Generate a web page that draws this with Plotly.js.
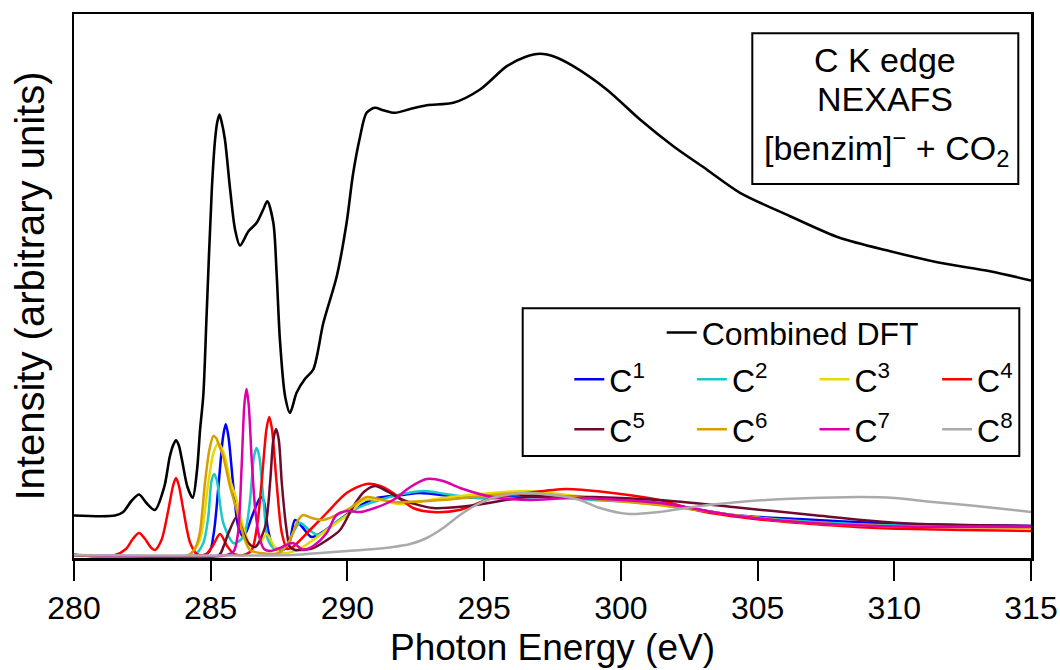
<!DOCTYPE html>
<html>
<head>
<meta charset="utf-8">
<script src="https://cdn.plot.ly/plotly-3.0.1.min.js"></script>
<style>html,body{margin:0;padding:0;background:#fff;}#chart{width:1060px;height:670px;}</style>
</head>
<body>
<div id="chart"></div>
<script>
// ---- data (photon energy in eV, intensity in arbitrary units) ----
const combinedX = [280, 281.5, 281.8, 282.1, 282.38, 282.65, 282.96, 283.3, 283.5, 283.63, 283.73, 283.83, 283.95, 284.15, 284.34, 284.5, 284.61, 284.73, 284.85, 285.04, 285.16, 285.24, 285.32, 285.4, 285.52, 285.71, 285.89, 286.07, 286.38, 286.68, 286.92, 287.07, 287.29, 287.41, 287.53, 287.72, 287.9, 288.14, 288.45, 288.75, 289.12, 289.61, 289.97, 290.2, 290.46, 290.7, 291.0, 291.31, 291.74, 292.3, 292.9, 293.87, 294.85, 295.83, 296.5, 297.05, 297.6, 298.26, 299.48, 300.7, 301.92, 303.14, 304.36, 306.19, 308.0, 309.85, 311.67, 313.5, 315.0];
const combinedY = [0.395, 0.395, 0.43, 0.54, 0.605, 0.52, 0.45, 0.68, 0.98, 1.1, 1.148, 1.1, 0.95, 0.68, 0.572, 0.85, 1.25, 1.6, 2.4, 3.655, 4.155, 4.33, 4.405, 4.33, 4.155, 3.655, 3.255, 3.095, 3.238, 3.322, 3.455, 3.538, 3.322, 2.822, 2.155, 1.588, 1.422, 1.622, 1.762, 1.855, 2.322, 2.788, 3.322, 3.8, 4.18, 4.422, 4.472, 4.448, 4.422, 4.46, 4.498, 4.522, 4.655, 4.888, 4.98, 5.012, 4.98, 4.888, 4.655, 4.355, 4.088, 3.855, 3.622, 3.388, 3.172, 3.038, 2.922, 2.838, 2.745];

const c1X = [280, 284.9, 285.1, 285.28, 285.45, 285.55, 285.65, 285.83, 286.01, 286.2, 286.5, 286.74, 286.84, 286.94, 287.1, 287.29, 287.6, 287.85, 288.08, 288.35, 288.69, 289.2, 289.85, 290.5, 291.07, 292.0, 292.66, 294.12, 295.3, 297.2, 299.0, 301.4, 304.1, 306.5, 309.4, 312.0, 315.0];
const c1Y = [0, 0.02, 0.2, 0.68, 1.18, 1.31, 1.18, 0.68, 0.28, 0.18, 0.38, 0.54, 0.58, 0.54, 0.25, 0.08, 0.05, 0.1, 0.35, 0.28, 0.18, 0.25, 0.38, 0.5, 0.57, 0.6, 0.62, 0.58, 0.57, 0.6, 0.56, 0.52, 0.4, 0.36, 0.32, 0.3, 0.29];

const c2X = [280, 284.4, 284.73, 284.91, 285.03, 285.13, 285.23, 285.46, 285.83, 286.05, 286.25, 286.44, 286.58, 286.68, 286.78, 286.93, 287.1, 287.35, 287.78, 288.0, 288.27, 288.6, 288.93, 289.6, 290.46, 291.3, 292.0, 292.8, 293.6, 294.7, 296.0, 297.5, 299.0, 301.4, 304.1, 306.5, 309.4, 312.0, 315.0];
const c2Y = [0, 0, 0.12, 0.38, 0.74, 0.81, 0.74, 0.32, 0.12, 0.14, 0.22, 0.55, 0.98, 1.07, 0.98, 0.55, 0.15, 0.06, 0.08, 0.22, 0.32, 0.25, 0.2, 0.33, 0.48, 0.56, 0.61, 0.64, 0.61, 0.57, 0.57, 0.58, 0.55, 0.51, 0.4, 0.34, 0.3, 0.29, 0.28];

const c3X = [280, 284.2, 284.6, 284.91, 285.1, 285.28, 285.5, 285.71, 285.95, 286.19, 286.5, 286.8, 287.05, 287.25, 287.45, 287.8, 288.37, 288.8, 289.24, 290.1, 290.6, 291.2, 291.92, 293.5, 295.3, 296.6, 299.0, 301.4, 304.1, 306.5, 309.4, 312.0, 315.0];
const c3Y = [0, 0, 0.15, 0.72, 1.02, 1.12, 1.0, 0.75, 0.55, 0.28, 0.08, 0.12, 0.21, 0.12, 0.04, 0.02, 0.08, 0.16, 0.25, 0.42, 0.55, 0.55, 0.51, 0.57, 0.62, 0.64, 0.57, 0.5, 0.4, 0.33, 0.29, 0.28, 0.27];

const c4X = [280, 281.5, 281.9, 282.15, 282.38, 282.6, 282.8, 282.96, 283.2, 283.45, 283.63, 283.73, 283.83, 284.0, 284.25, 284.5, 284.8, 285.05, 285.34, 285.6, 285.85, 286.2, 286.5, 286.7, 286.86, 287.04, 287.14, 287.24, 287.41, 287.6, 287.8, 288.0, 288.63, 289.24, 289.97, 290.7, 291.2, 291.67, 292.4, 293.13, 294.1, 295.3, 296.56, 298.0, 299.4, 301.4, 302.9, 304.6, 306.55, 309.4, 312.4, 315.0];
const c4Y = [0, 0, 0.06, 0.16, 0.22, 0.16, 0.08, 0.05, 0.15, 0.45, 0.7, 0.77, 0.7, 0.45, 0.12, 0.01, 0.0, 0.08, 0.21, 0.09, 0.01, 0.0, 0.05, 0.3, 0.72, 1.26, 1.38, 1.26, 0.72, 0.22, 0.06, 0.08, 0.25, 0.42, 0.62, 0.71, 0.69, 0.62, 0.47, 0.43, 0.45, 0.57, 0.62, 0.66, 0.63, 0.55, 0.44, 0.37, 0.32, 0.27, 0.25, 0.24];

const c5X = [280, 285.3, 285.46, 285.65, 285.95, 286.2, 286.38, 286.62, 286.99, 287.17, 287.29, 287.39, 287.49, 287.6, 287.76, 287.9, 288.1, 288.27, 288.75, 289.2, 289.73, 290.2, 290.6, 291.0, 291.5, 292.03, 293.13, 294.7, 296.56, 299.0, 301.4, 304.1, 307.0, 310.2, 312.5, 315.0];
const c5Y = [0, 0, 0.08, 0.22, 0.38, 0.22, 0.12, 0.08, 0.28, 0.72, 1.15, 1.26, 1.15, 0.72, 0.28, 0.08, 0.05, 0.05, 0.07, 0.14, 0.25, 0.48, 0.63, 0.69, 0.63, 0.55, 0.47, 0.5, 0.58, 0.58, 0.55, 0.48, 0.4, 0.32, 0.3, 0.29];

const c6X = [280, 284.2, 284.45, 284.6, 284.79, 284.95, 285.1, 285.2, 285.3, 285.46, 285.71, 285.95, 286.25, 286.44, 286.8, 287.5, 287.9, 288.2, 288.39, 288.7, 289.12, 289.6, 290.1, 290.7, 291.67, 293.5, 295.3, 296.5, 299.0, 301.4, 304.1, 306.5, 309.4, 312.0, 315.0];
const c6Y = [0, 0, 0.08, 0.22, 0.72, 1.05, 1.19, 1.17, 1.1, 0.98, 0.68, 0.45, 0.15, 0.05, 0.02, 0.02, 0.15, 0.35, 0.4, 0.37, 0.35, 0.4, 0.47, 0.58, 0.53, 0.55, 0.6, 0.62, 0.56, 0.5, 0.4, 0.33, 0.29, 0.28, 0.28];

const c7X = [280, 285.6, 285.85, 286.0, 286.13, 286.23, 286.31, 286.39, 286.5, 286.63, 286.78, 286.95, 287.2, 287.53, 288.0, 288.39, 288.8, 289.24, 289.6, 290.0, 290.46, 291.0, 291.67, 292.3, 292.9, 293.5, 294.12, 295.3, 296.56, 298.4, 301.4, 304.0, 306.5, 309.4, 312.0, 315.0];
const c7Y = [0, 0, 0.04, 0.22, 0.88, 1.5, 1.66, 1.5, 0.95, 0.45, 0.18, 0.06, 0.04, 0.07, 0.12, 0.05, 0.1, 0.22, 0.4, 0.44, 0.43, 0.47, 0.55, 0.68, 0.76, 0.74, 0.67, 0.58, 0.55, 0.57, 0.52, 0.4, 0.33, 0.29, 0.28, 0.28];

const c8X = [280, 288.0, 289.0, 290.0, 291.0, 291.67, 292.3, 292.9, 293.5, 294.12, 294.7, 295.3, 296.0, 296.56, 297.2, 297.8, 298.5, 299.24, 300.3, 301.4, 302.9, 305.3, 307.0, 308.75, 310.0, 311.4, 313.0, 315.0];
const c8Y = [0, 0, 0.02, 0.04, 0.06, 0.08, 0.11, 0.17, 0.27, 0.4, 0.5, 0.57, 0.61, 0.62, 0.61, 0.59, 0.55, 0.47, 0.41, 0.43, 0.49, 0.55, 0.57, 0.58, 0.57, 0.53, 0.49, 0.43];

const seriesNames = ['C<sup>1</sup>', 'C<sup>2</sup>', 'C<sup>3</sup>', 'C<sup>4</sup>', 'C<sup>5</sup>', 'C<sup>6</sup>', 'C<sup>7</sup>', 'C<sup>8</sup>'];
const seriesColors = ['#0000FF', '#1CC7C7', '#E6DA00', '#FF0000', '#6E0A2E', '#D69E00', '#DD00AA', '#AAAAAA'];
const xTickVals = [280, 285, 290, 295, 300, 305, 310, 315];

// ---- geometry helpers (plot area in px) ----
const L = 74, R = 1031, T = 14, B = 558;
const px2x = p => (p - L) / (R - L);
const py2y = p => (B - p) / (B - T);

const compX = [c1X, c2X, c3X, c4X, c5X, c6X, c7X, c8X];
const compY = [c1Y, c2Y, c3Y, c4Y, c5Y, c6Y, c7Y, c8Y];

const traces = [{
  x: combinedX, y: combinedY, type: 'scatter', mode: 'lines', name: 'Combined DFT',
  line: {color: '#000000', width: 2.6, shape: 'spline', smoothing: 0.8},
  legend: 'legend'
}];
for (let i = 0; i < 8; i++) {
  traces.push({
    x: compX[i], y: compY[i], type: 'scatter', mode: 'lines', name: seriesNames[i],
    line: {color: seriesColors[i], width: 2.5, shape: 'spline', smoothing: 0.8},
    legend: i < 4 ? 'legend2' : 'legend3'
  });
}

const FONT = 'Liberation Sans, Arial, Helvetica, sans-serif';
const legendCommon = {
  xanchor: 'left', yanchor: 'top', bgcolor: 'rgba(0,0,0,0)', borderwidth: 0,
  font: {family: FONT, size: 32, color: '#000'}, traceorder: 'normal'
};

const layout = {
  width: 1060, height: 670,
  margin: {l: L, r: 1060 - R, t: T, b: 670 - B, pad: 0, autoexpand: false},
  paper_bgcolor: '#ffffff', plot_bgcolor: '#ffffff',
  font: {family: FONT, color: '#000'},
  showlegend: true,
  xaxis: {
    range: [280, 315], tickvals: xTickVals, ticktext: xTickVals.map(String),
    ticks: 'outside', ticklen: 20, tickwidth: 2, tickcolor: '#000',
    showline: true, linewidth: 2.5, linecolor: '#000', mirror: true,
    showgrid: false, zeroline: false, automargin: false,
    tickfont: {family: FONT, size: 32, color: '#000'},
    title: {text: 'Photon Energy (eV)', font: {family: FONT, size: 37, color: '#000'}, standoff: 9}
  },
  yaxis: {
    range: [-0.03, 5.41], showticklabels: false, ticks: '',
    showline: true, linewidth: 2.5, linecolor: '#000', mirror: true,
    showgrid: false, zeroline: false, automargin: false,
    title: {text: 'Intensity (arbitrary units)', font: {family: FONT, size: 40, color: '#000'}, standoff: 15}
  },
  legend: Object.assign({}, legendCommon, {x: px2x(661.7), y: py2y(305.2)}),
  legend2: Object.assign({}, legendCommon, {x: px2x(569.3), y: py2y(351.9), orientation: 'h', entrywidth: 77.6, entrywidthmode: 'pixels'}),
  legend3: Object.assign({}, legendCommon, {x: px2x(569.3), y: py2y(401.9), orientation: 'h', entrywidth: 77.6, entrywidthmode: 'pixels'}),
  shapes: [
    {type: 'rect', xref: 'paper', yref: 'paper', x0: px2x(522.7), x1: px2x(1019.3), y0: py2y(456), y1: py2y(308.3), line: {color: '#000', width: 2}, fillcolor: 'rgba(0,0,0,0)'},
    {type: 'rect', xref: 'paper', yref: 'paper', x0: px2x(752.3), x1: px2x(1018.3), y0: py2y(184), y1: py2y(33.3), line: {color: '#000', width: 2}, fillcolor: 'rgba(255,255,255,1)', layer: 'below'}
  ],
  annotations: [
    {xref: 'paper', yref: 'paper', x: px2x(885.3), y: py2y(59.9), xanchor: 'center', yanchor: 'middle', showarrow: false, text: 'C K edge', font: {family: FONT, size: 34, color: '#000'}},
    {xref: 'paper', yref: 'paper', x: px2x(885.3), y: py2y(98.9), xanchor: 'center', yanchor: 'middle', showarrow: false, text: 'NEXAFS', font: {family: FONT, size: 34, color: '#000'}},
    {xref: 'paper', yref: 'paper', x: px2x(886.3), y: py2y(148.2), xanchor: 'center', yanchor: 'middle', showarrow: false, text: '[benzim]<sup>\u2212</sup> + CO<sub>2</sub>', font: {family: FONT, size: 34, color: '#000'}}
  ]
};

Plotly.newPlot('chart', traces, layout, {staticPlot: true, displayModeBar: false});
</script>
</body>
</html>
